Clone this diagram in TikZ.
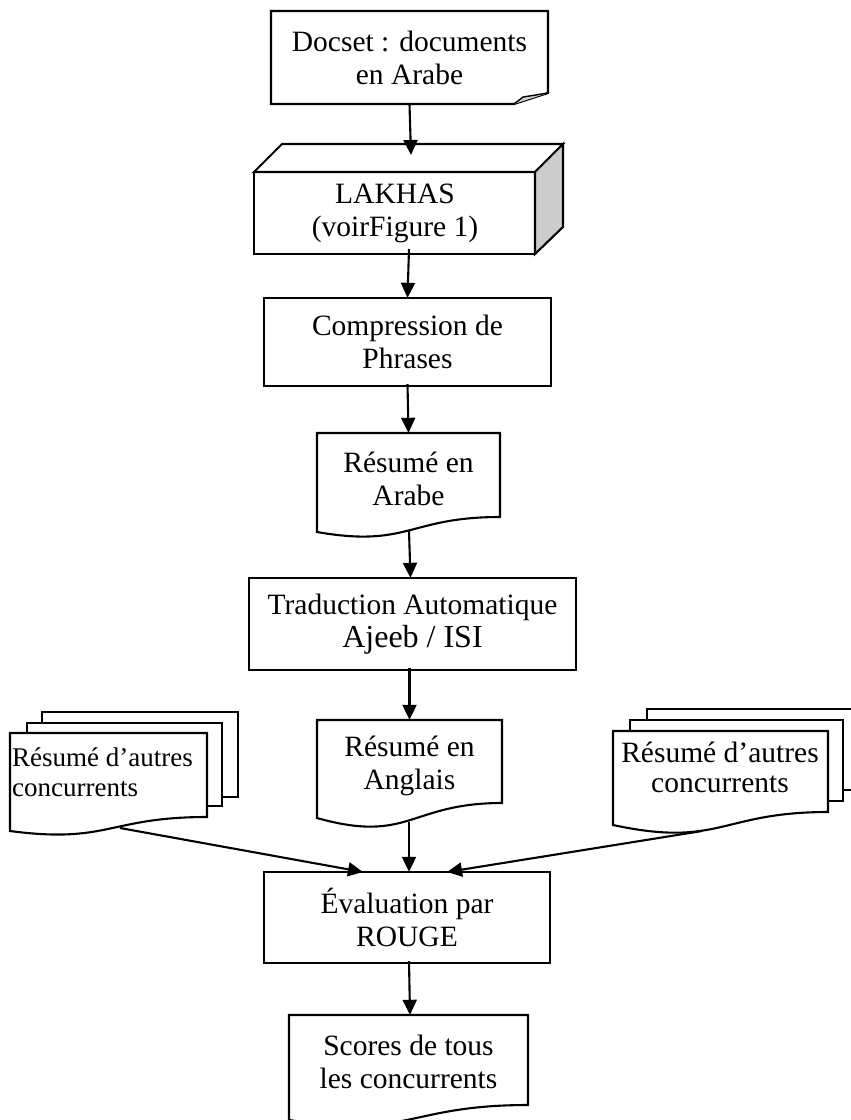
\documentclass[tikz,border=0pt]{standalone}
\usepackage{fontspec}
\setmainfont{Liberation Serif}
\usetikzlibrary{arrows.meta}
\newcommand{\docshape}[7][]{%
  \pgfmathsetmacro{\dmid}{(#2+#4)/2}%
  \draw[#1] (#2,#3) -- (#4,#3) -- (#4,#5) .. controls (\dmid,#5) and (\dmid,#7) .. (#2,#6) -- cycle;}
\begin{document}
\begin{tikzpicture}[x=1pt,y=-1pt,
  shapeline/.style={draw=black,line width=2.1pt,fill=white,line join=miter},
  arr/.style={line width=2.1pt,-{Triangle[length=15pt,width=14pt]}},
  lbl/.style={inner sep=0pt,align=center,font=\fontsize{29.5}{33}\selectfont},
  holder/.style={lbl,draw=none}]
\useasboundingbox (0,0) rectangle (851,1120);
\clip (0,0) rectangle (851,1120);

% --- Docset (note with folded corner)
\draw[shapeline] (271,11) -- (548,11) -- (548,93) -- (514,104) -- (271,104) -- cycle;
\draw[shapeline,fill=black!20,line width=1.4pt] (514,104) -- (523,97) -- (548,93);
\node[holder,minimum width=277pt,minimum height=93pt] (docset) at (409.5,57.5) {Docset : documents\\en Arabe};

% --- LAKHAS (cube)
\draw[shapeline] (254,172) rectangle (535,254);
\draw[shapeline] (254,172) -- (282,144) -- (563,144) -- (535,172) -- cycle;
\draw[shapeline,fill=black!20] (535,172) -- (563,144) -- (563,227) -- (535,254) -- cycle;
\node[holder,minimum width=281pt,minimum height=82pt] (lakhas) at (395,213) {LAKHAS\\(voirFigure 1)};
\coordinate (lakin) at (411,155);
\coordinate (lakout) at (409,249);

% --- Compression
\draw[shapeline] (264,298) rectangle (551,386);
\node[holder,minimum width=287pt,minimum height=88pt] (comp) at (407.5,342) {Compression de\\Phrases};

% --- Resume en Arabe (document)
\docshape[shapeline]{317}{433}{500}{517}{532}{548}
\node[holder,minimum width=183pt,minimum height=91pt] (arabe) at (408.5,478.5) {Résumé en\\Arabe};
\coordinate (arabeout) at (409,531);

% --- Traduction
\draw[shapeline] (249,578) rectangle (576,670);
\node[holder,minimum width=327pt,minimum height=92pt] (trad) at (412.5,624) {Traduction Automatique\\{\fontsize{32}{33}\selectfont Ajeeb / ISI}};

% --- Resume en Anglais
\docshape[shapeline]{317}{720}{502}{803}{818}{844}
\node[holder,minimum width=185pt,minimum height=92pt] (anglais) at (409.5,766) {Résumé en\\Anglais};
\coordinate (anglaisout) at (409,822);

% --- Left stack of documents
\draw[shapeline] (42,712) rectangle (238,797);
\draw[shapeline] (27,723) rectangle (222,806);
\docshape[shapeline]{10}{733}{207}{817}{831}{844}
\node[lbl,anchor=west,align=left,font=\fontsize{27}{30}\selectfont] (leftdocs) at (12,772.5) {Résumé d’autres\\concurrents};
\coordinate (leftout) at (120,828);

% --- Right stack of documents
\draw[shapeline] (647,709) rectangle (880,790);
\draw[shapeline] (630,720) rectangle (843,801);
\docshape[shapeline]{613}{731}{828}{812}{825}{848}
\node[lbl,font=\fontsize{29.5}{30}\selectfont] (rightdocs) at (720,767) {Résumé d’autres\\concurrents};
\coordinate (rightout) at (702,831);

% --- Evaluation
\draw[shapeline] (264,872) rectangle (550,963);
\node[holder,minimum width=286pt,minimum height=91pt] (eval) at (407,917.5) {Évaluation par\\ROUGE};
\coordinate (evalL) at (363,872);
\coordinate (evalR) at (447,872);

% --- Scores
\docshape[shapeline]{289}{1015}{528}{1105}{1120}{1139}
\node[holder,minimum width=239pt,minimum height=93pt] (scores) at (408.5,1061.5) {Scores de tous\\les concurrents};

% --- Connectors
\draw[arr] (docset.south) -- (lakin);
\draw[arr] (lakout) -- (comp.north);
\draw[arr] ([yshift=2pt]comp.south) -- (arabe.north);
\draw[arr] (arabeout) -- ([xshift=-2pt]trad.north);
\draw[arr] ([xshift=-3pt,yshift=2pt]trad.south) -- (anglais.north);
\draw[arr] (anglaisout) -- ([xshift=2pt]eval.north);
\draw[arr] (leftout) -- (evalL);
\draw[arr] (rightout) -- (evalR);
\draw[arr] ([xshift=2pt,yshift=2pt]eval.south) -- ([xshift=1.5pt]scores.north);
\end{tikzpicture}
\end{document}
